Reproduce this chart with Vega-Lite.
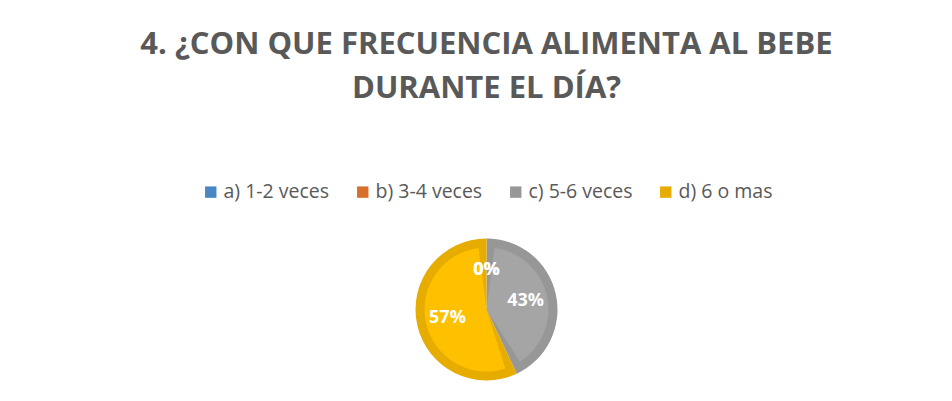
{
  "$schema": "https://vega.github.io/schema/vega-lite/v6.json",
  "width": 952,
  "height": 401,
  "autosize": {"type": "fit", "contains": "padding"},
  "padding": {"top": 29, "left": 21, "right": 0, "bottom": 0},
  "background": "white",
  "title": {
    "text": ["4. ¿CON QUE FRECUENCIA ALIMENTA AL BEBE", "DURANTE EL DÍA?"],
    "font": "Open Sans",
    "fontSize": 31,
    "fontWeight": "bold",
    "color": "#595959",
    "lineHeight": 44,
    "anchor": "middle",
    "offset": 113
  },
  "data": {
    "values": [
      {"option": "a) 1-2 veces", "value": 0},
      {"option": "b) 3-4 veces", "value": 0},
      {"option": "c) 5-6 veces", "value": 0.43},
      {"option": "d) 6 o mas", "value": 0.57}
    ]
  },
  "encoding": {
    "theta": {"field": "value", "type": "quantitative", "stack": true},
    "order": {"field": "option", "type": "nominal"}
  },
  "layer": [
    {
      "mark": {"type": "arc", "outerRadius": 71},
      "encoding": {
        "color": {
          "field": "option",
          "type": "nominal",
          "scale": {
            "domain": ["a) 1-2 veces", "b) 3-4 veces", "c) 5-6 veces", "d) 6 o mas"],
            "range": ["#4a86c4", "#d8702c", "#979797", "#e6ac00"]
          },
          "legend": {
            "title": null,
            "orient": "none",
            "direction": "horizontal",
            "legendX": 180,
            "legendY": -36,
            "symbolType": "square",
            "symbolSize": 130,
            "symbolStrokeWidth": 0,
            "labelFont": "Open Sans",
            "labelFontSize": 19.5,
            "labelColor": "#595959",
            "labelOffset": 3,
            "columnPadding": 23,
            "labelLimit": 300
          }
        }
      }
    },
    {
      "mark": {"type": "arc", "outerRadius": 62, "padAngle": 0.26},
      "encoding": {
        "fill": {
          "field": "option",
          "type": "nominal",
          "scale": {
            "domain": ["a) 1-2 veces", "b) 3-4 veces", "c) 5-6 veces", "d) 6 o mas"],
            "range": ["#5b9bd5", "#ed7d31", "#a5a5a5", "#ffc000"]
          },
          "legend": null
        }
      }
    },
    {
      "mark": {"type": "text", "radius": 40, "font": "Open Sans", "fontSize": 18, "fontWeight": "bold", "color": "white"},
      "encoding": {
        "text": {"field": "value", "type": "quantitative", "format": ".0%"}
      }
    }
  ],
  "config": {"view": {"stroke": null}}
}
